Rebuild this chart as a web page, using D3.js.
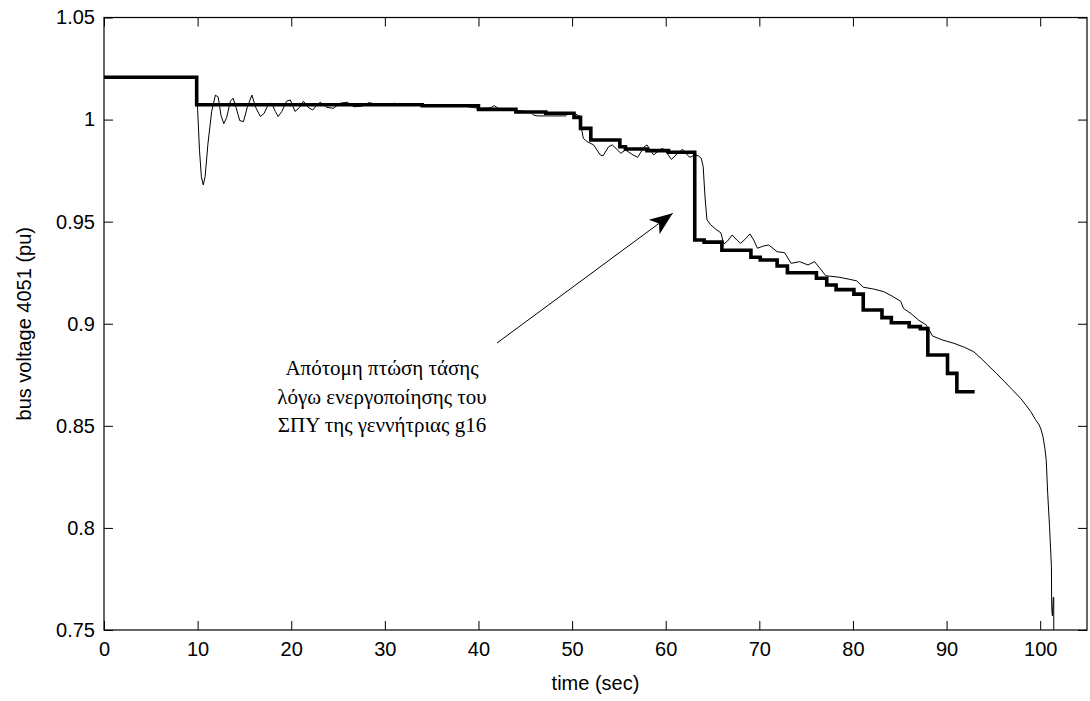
<!doctype html>
<html>
<head>
<meta charset="utf-8">
<title>bus voltage 4051</title>
<script src="https://d3js.org/d3.v7.min.js"></script>
<style>
  body { margin: 0; background: #fff; }
  svg { display: block; }
</style>
</head>
<body>
<script>
// x and y ticks
var xTicks = [0, 10, 20, 30, 40, 50, 60, 70, 80, 90, 100];
var yTicks = [0.75, 0.8, 0.85, 0.9, 0.95, 1, 1.05];

// thick curve: stepwise values (time, pu)
var stepTime = [0, 9.9, 34, 40, 44, 47.2, 50.2, 50.9, 52, 55.1, 55.7, 58, 60.3, 63.1, 64.1, 66, 69.1, 70.1, 71.9, 73,
  76.1, 77.2, 78.2, 80.1, 81.1, 83.1, 84.1, 86, 87.2, 88, 90.1, 91.1, 93];
var stepVolt = [1.0207, 1.0073, 1.0068, 1.005, 1.0037, 1.0031, 1.0011, 0.9957, 0.99, 0.9867, 0.9856, 0.9848, 0.984, 0.941, 0.94, 0.936, 0.9326, 0.9312, 0.9283, 0.925,
  0.9223, 0.919, 0.9167, 0.9145, 0.9067, 0.903, 0.9005, 0.8986, 0.8976, 0.8847, 0.8757, 0.8667, 0.8667];

// thin curve: simulated response (time, pu)
var simTime = [0, 9.9, 10.0, 10.2, 10.4, 10.6, 10.8, 11.1, 11.5, 11.9, 12.2, 12.5, 12.8, 13.1, 13.5, 13.8, 14.1, 14.5, 14.9, 15.3,
  15.8, 16.2, 16.7, 17.1, 17.5, 17.9, 18.3, 18.6, 19.0, 19.5, 19.9, 20.4, 20.9, 21.3, 21.8, 22.3, 22.7, 23.1, 23.8, 24.5,
  25.2, 26.0, 26.7, 27.5, 28.3, 29.1, 30.0, 31.0, 32.0, 33.0, 34.0, 35.0, 36.0, 37.0, 38.5, 40.0, 41.3, 41.7, 42.1, 44.0,
  45.5, 45.9, 46.3, 49.3, 49.6, 50.2, 50.9, 51.0, 51.2, 51.6, 52.3, 53.0, 53.3, 53.9, 54.3, 55.2, 55.7, 56.5, 57.0, 57.7,
  58.0, 58.7, 59.6, 59.9, 60.6, 61.2, 61.8, 62.3, 62.6, 63.1, 63.5, 63.8, 64.0, 64.2, 64.4, 64.8, 65.3, 65.9, 66.2, 66.6,
  67.1, 67.6, 68.0, 68.5, 69.0, 69.4, 69.8, 70.4, 71.0, 71.9, 72.7, 73.4, 74.3, 75.2, 75.9, 76.5, 77.1, 78.5, 79.6, 80.4,
  81.1, 82.2, 83.3, 84.2, 85.1, 85.4, 86.2, 87.0, 87.8, 88.2, 88.5, 89.6, 90.8, 91.9, 92.9, 93.7, 94.4, 95.3, 96.2, 97.0,
  97.9, 98.5, 99.0, 99.5, 99.9, 100.1, 100.3, 100.5, 100.65, 100.8, 101.0, 101.2, 101.22, 101.25, 101.3, 101.4, 101.45, 101.45];
var simVolt = [1.0207, 1.0207, 1.005, 0.985, 0.972, 0.968, 0.972, 0.988, 1.004, 1.012, 1.011, 1.002, 0.998, 1.001, 1.009, 1.0105, 1.006, 0.9995, 0.999, 1.006,
  1.012, 1.006, 1.0015, 1.003, 1.007, 1.008, 1.004, 1.0015, 1.004, 1.009, 1.0096, 1.004, 1.006, 1.009, 1.006, 1.0047, 1.007, 1.0085, 1.006, 1.0055,
  1.008, 1.0085, 1.0063, 1.0065, 1.0083, 1.0075, 1.0068, 1.008, 1.0072, 1.0076, 1.0073, 1.0068, 1.0069, 1.0067, 1.0066, 1.0055, 1.0058, 1.0068, 1.0055, 1.0045,
  1.0038, 1.0022, 1.0018, 1.0018, 1.003, 1.0031, 1.0014, 0.9957, 0.9908, 0.9892, 0.9876, 0.9827, 0.9822, 0.9867, 0.9876, 0.9835, 0.9851, 0.9827, 0.9815, 0.9867,
  0.9876, 0.9827, 0.9859, 0.9851, 0.9805, 0.9831, 0.9855, 0.9827, 0.9815, 0.9827, 0.9822, 0.981, 0.977, 0.962, 0.951, 0.9485, 0.9465, 0.9445, 0.939, 0.9405,
  0.9435, 0.941, 0.9394, 0.9415, 0.944, 0.941, 0.937, 0.938, 0.9386, 0.9353, 0.9348, 0.9296, 0.9304, 0.9288, 0.9304, 0.927, 0.9235, 0.9228, 0.9218, 0.921,
  0.9179, 0.917, 0.9157, 0.9135, 0.911, 0.9075, 0.905, 0.9018, 0.8995, 0.8965, 0.894, 0.892, 0.8904, 0.8885, 0.8863, 0.883, 0.8798, 0.8758, 0.8716, 0.8678,
  0.8635, 0.86, 0.8569, 0.853, 0.8504, 0.848, 0.8447, 0.839, 0.833, 0.817, 0.8006, 0.781, 0.7647, 0.7598, 0.757, 0.766, 0.766, 0.74];

var noteLines = ["Απότομη πτώση τάσης", "λόγω ενεργοποίησης του", "ΣΠΥ της γεννήτριας g16"];

var W = 1090, H = 701;
var pL = 104, pR = 1087, pT = 17.5, pB = 630;

var svg = d3.select("body").append("svg")
  .attr("width", W).attr("height", H);

var x = d3.scaleLinear().domain([0, 105]).range([pL, pR]);
var y = d3.scaleLinear().domain([0.75, 1.05]).range([pB, pT]);

svg.append("defs").append("clipPath").attr("id", "plot")
  .append("rect").attr("x", pL).attr("y", pT)
  .attr("width", pR - pL).attr("height", pB - pT);

var sans = "Liberation Sans, Arial, sans-serif";
var tick = 9;

// axes, MATLAB style: ticks inside, box all round
var gx = svg.append("g").attr("transform", "translate(0," + pB + ")")
  .call(d3.axisBottom(x).tickValues(xTicks).tickSize(-tick).tickSizeOuter(0).tickPadding(12).tickFormat(d3.format("d")));
var gy = svg.append("g").attr("transform", "translate(" + pL + ",0)")
  .call(d3.axisLeft(y).tickValues(yTicks).tickSize(-tick).tickSizeOuter(0).tickPadding(9).tickFormat(function(d) { return String(+d.toFixed(2)); }));
var gt = svg.append("g").attr("transform", "translate(0," + pT + ")")
  .call(d3.axisTop(x).tickValues(xTicks).tickSize(-tick).tickSizeOuter(0).tickFormat(""));
var gr = svg.append("g").attr("transform", "translate(" + pR + ",0)")
  .call(d3.axisRight(y).tickValues(yTicks).tickSize(-tick).tickSizeOuter(0).tickFormat(""));

[gx, gy, gt, gr].forEach(function(g) {
  g.select(".domain").remove();
  g.selectAll("line").attr("stroke", "#000").attr("stroke-width", 1);
  g.selectAll("text").attr("fill", "#000").style("font-family", sans).style("font-size", "20px");
});

svg.append("rect")
  .attr("x", pL).attr("y", pT)
  .attr("width", pR - pL).attr("height", pB - pT)
  .attr("fill", "none").attr("stroke", "#000").attr("stroke-width", 1.2);

// curves
var plot = svg.append("g").attr("clip-path", "url(#plot)");

var simData = simTime.map(function(t, i) { return [t, simVolt[i]]; });
var stepData = stepTime.map(function(t, i) { return [t, stepVolt[i]]; });

plot.append("path")
  .datum(simData)
  .attr("d", d3.line().x(function(d) { return x(d[0]); }).y(function(d) { return y(d[1]); }))
  .attr("fill", "none").attr("stroke", "#000").attr("stroke-width", 1);

plot.append("path")
  .datum(stepData)
  .attr("d", d3.line().curve(d3.curveStepAfter).x(function(d) { return x(d[0]); }).y(function(d) { return y(d[1]); }))
  .attr("fill", "none").attr("stroke", "#000").attr("stroke-width", 3.6).attr("stroke-linejoin", "miter");

// axis titles
svg.append("text")
  .attr("x", (pL + pR) / 2).attr("y", 690)
  .attr("text-anchor", "middle")
  .style("font-family", sans).style("font-size", "20px")
  .text("time (sec)");

svg.append("text")
  .attr("transform", "translate(31," + ((pT + pB) / 2) + ") rotate(-90)")
  .attr("text-anchor", "middle")
  .style("font-family", sans).style("font-size", "20px")
  .text("bus voltage 4051 (pu)");

// annotation arrow
var tail = [497, 343], tip = [672.7, 213.3];
svg.append("line")
  .attr("x1", tail[0]).attr("y1", tail[1])
  .attr("x2", tip[0]).attr("y2", tip[1])
  .attr("stroke", "#000").attr("stroke-width", 1);

var ang = Math.atan2(tip[1] - tail[1], tip[0] - tail[0]) * 180 / Math.PI;
svg.append("path")
  .attr("d", "M0,0 L-23,-9 L-17,0 L-23,9 Z")
  .attr("transform", "translate(" + tip[0] + "," + tip[1] + ") rotate(" + ang + ")")
  .attr("fill", "#000");

var note = svg.append("text")
  .attr("text-anchor", "middle")
  .style("font-family", "Liberation Serif, DejaVu Serif, serif").style("font-size", "21px");
note.selectAll("tspan").data(noteLines).enter().append("tspan")
  .attr("x", 382)
  .attr("y", function(d, i) { return 375 + i * 28.5; })
  .text(function(d) { return d; });
</script>
</body>
</html>
